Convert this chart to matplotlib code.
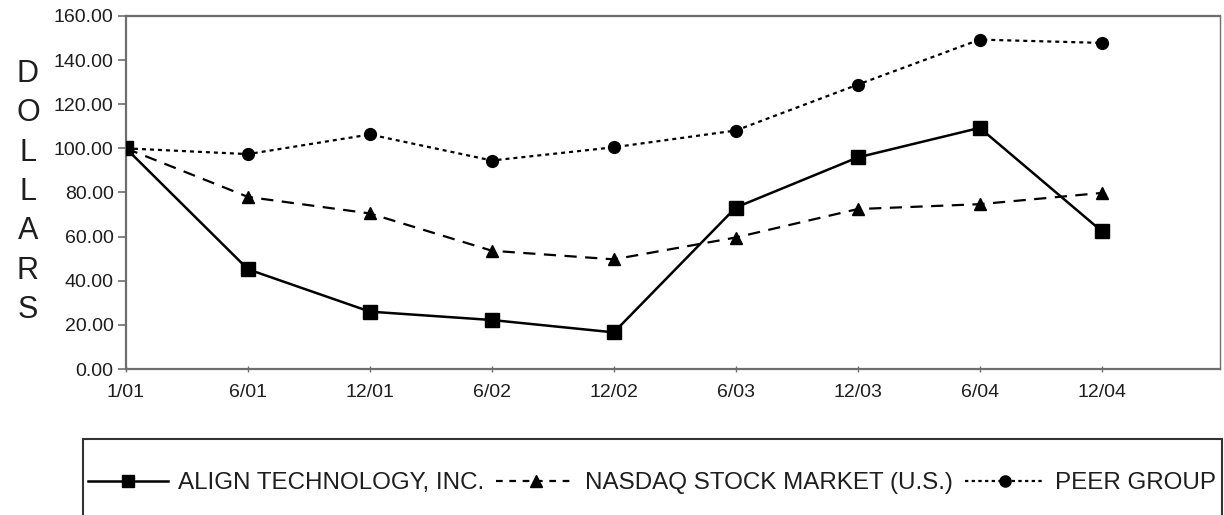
import matplotlib
matplotlib.use("Agg")
import matplotlib.pyplot as plt
from matplotlib.lines import Line2D
from matplotlib.patches import Rectangle

plt.rcParams['font.family'] = ['Liberation Sans', 'DejaVu Sans']

periods = ["1/01", "6/01", "12/01", "6/02", "12/02", "6/03", "12/03", "6/04", "12/04"]
align = [100.0, 45.2, 26.0, 22.2, 16.6, 73.2, 95.9, 109.3, 62.5]
nasdaq = [100.0, 78.0, 70.5, 53.6, 49.7, 59.6, 72.5, 74.7, 79.8]
peer = [100.0, 97.4, 106.3, 94.5, 100.5, 108.1, 128.9, 149.3, 147.8]
series_names = ["ALIGN TECHNOLOGY, INC.", "NASDAQ STOCK MARKET (U.S.)", "PEER GROUP"]
yticks = [0, 20, 40, 60, 80, 100, 120, 140, 160]

W, H = 1224, 515
fig = plt.figure(figsize=(W / 100, H / 100), dpi=100)
ax = fig.add_axes([126 / W, 1 - 369 / H, (1220 - 126) / W, (369 - 16) / H])

txt = '#1e1e1e'
spine_c = '#6e6e6e'
x = list(range(len(periods)))

ax.plot(x, align, color='black', lw=1.8, marker='s', ms=9.5,
        markerfacecolor='black', markeredgecolor='black', label=series_names[0], zorder=5)
ax.plot(x, nasdaq, color='black', lw=1.6, linestyle=(0, (5.5, 3.8)), marker='^', ms=9,
        markerfacecolor='black', label=series_names[1], zorder=4)
ax.plot(x, peer, color='black', lw=1.6, linestyle=(0, (1.8, 1.8)), marker='o', ms=8.5,
        markerfacecolor='black', label=series_names[2], zorder=3)

ax.set_xlim(0, 8.97)
ax.set_ylim(0, 160)
ax.set_yticks(yticks)
ax.set_yticklabels([f"{v:.2f}" for v in yticks])
ax.set_xticks(x)
ax.set_xticklabels(periods)

for s in ax.spines.values():
    s.set_color(spine_c)
    s.set_linewidth(1.6)
ax.spines['right'].set_linewidth(1.0)

ax.tick_params(axis='y', direction='out', length=6, width=1.2, color=spine_c,
               labelsize=14, labelcolor=txt, pad=3)
ax.tick_params(axis='x', direction='inout', length=4, width=1.0, color=spine_c,
               labelsize=14, labelcolor=txt, pad=9)

fig.text(28 / W, 1 - 192 / H, "\n".join("DOLLARS"), ha='center', va='center',
         fontsize=22, color=txt, linespacing=1.41)

# legend box
rect = Rectangle((83 / W, -0.05), (1222 - 83) / W, (0.05 + 1 - 439 / H),
                 transform=fig.transFigure, fill=False, edgecolor='#333333', lw=1.5)
fig.patches.append(rect)

h1 = Line2D([], [], color='black', lw=1.8, marker='s', ms=9, markerfacecolor='black')
h2 = Line2D([], [], color='black', lw=1.6, linestyle=(0, (3, 3)), marker='^', ms=9, markerfacecolor='black')
h3 = Line2D([], [], color='black', lw=1.6, linestyle=(0, (1.5, 1.5)), marker='o', ms=8, markerfacecolor='black')
fig.legend([h1, h2, h3], series_names, loc='center', bbox_to_anchor=(652 / W, 1 - 483 / H),
           ncol=3, frameon=False, fontsize=17.4, handlelength=3.3, handletextpad=0.4,
           columnspacing=0.5, borderpad=0, labelcolor=txt)

fig.savefig("out.png", dpi=100)
